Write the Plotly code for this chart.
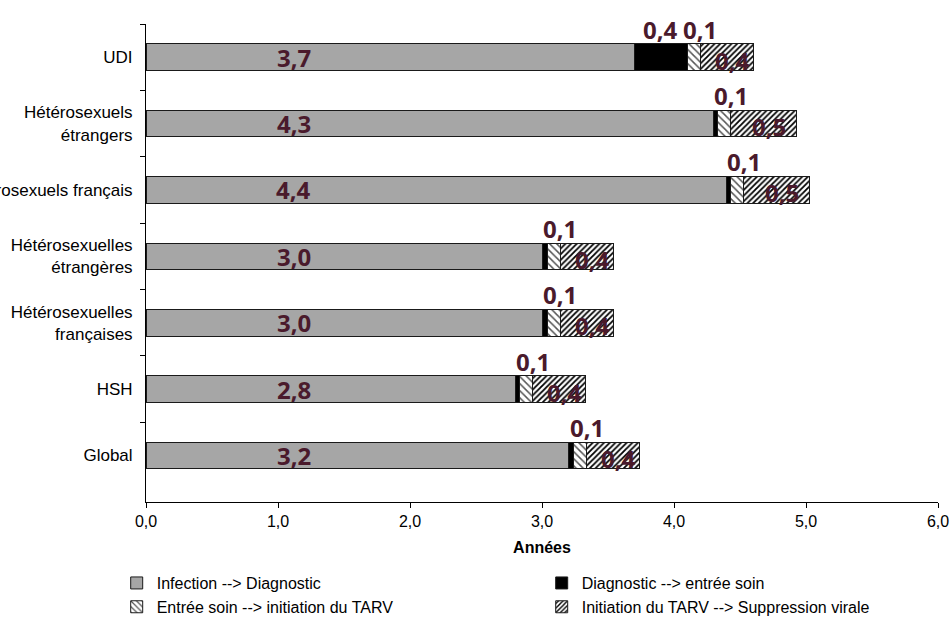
import plotly.graph_objects as go

# Groups, top to bottom
groups = [
    "UDI",
    "Hétérosexuels<br>étrangers",
    "Hétérosexuels français",
    "Hétérosexuelles<br>étrangères",
    "Hétérosexuelles<br>françaises",
    "HSH",
    "Global",
]

# Median durations (years) of each step of the care cascade
infection_diagnostic = [3.7, 4.3, 4.4, 3.0, 3.0, 2.8, 3.2]
diagnostic_soin = [0.4, 0.03, 0.03, 0.04, 0.04, 0.03, 0.04]
soin_tarv = [0.1, 0.1, 0.1, 0.1, 0.1, 0.1, 0.1]
tarv_suppression = [0.4, 0.5, 0.5, 0.4, 0.4, 0.4, 0.4]

step_names = [
    "Infection --> Diagnostic",
    "Diagnostic --> entrée soin",
    "Entrée soin --> initiation du TARV",
    "Initiation du TARV --> Suppression virale",
]

x_ticks = [0, 1, 2, 3, 4, 5, 6]

LABEL_COLOR = "#4a1a2c"
AXIS_FONT = "Liberation Sans, Arial, sans-serif"
LABEL_FONT = "Open Sans, sans-serif"


def fmt(v):
    return f"{v:.1f}".replace(".", ",")


fig = go.Figure()

bar_line = dict(color="#1a1a1a", width=1)

fig.add_trace(go.Bar(
    name=step_names[0], y=groups, x=infection_diagnostic, orientation="h",
    marker=dict(color="#a6a6a6", line=bar_line),
))
fig.add_trace(go.Bar(
    name=step_names[1], y=groups, x=diagnostic_soin, orientation="h",
    marker=dict(color="#000000", line=bar_line),
))
fig.add_trace(go.Bar(
    name=step_names[2], y=groups, x=soin_tarv, orientation="h",
    marker=dict(color="white", line=bar_line,
                pattern=dict(shape="\\", size=5, solidity=0.3,
                             fgcolor="#555555", bgcolor="white")),
))
fig.add_trace(go.Bar(
    name=step_names[3], y=groups, x=tarv_suppression, orientation="h",
    marker=dict(color="white", line=bar_line,
                pattern=dict(shape="/", size=4, solidity=0.45,
                             fgcolor="#000000", bgcolor="white")),
))

annotations = []
label_font = dict(family=LABEL_FONT, size=24, color=LABEL_COLOR)
for i, g in enumerate(groups):
    a = infection_diagnostic[i]
    b = diagnostic_soin[i]
    c = soin_tarv[i]
    d = tarv_suppression[i]
    # first step, written inside the grey bar
    annotations.append(dict(x=1.12, y=g, text=f"<b>{fmt(a)}</b>", showarrow=False,
                            font=label_font, xanchor="center", yanchor="middle"))
    # diagnostic -> care, only when the segment is wide enough
    if b >= 0.1:
        annotations.append(dict(x=a + b / 2, y=g, text=f"<b>{fmt(b)}</b>", showarrow=False,
                                font=label_font, xanchor="center", yanchor="middle",
                                yshift=28))
    # care -> treatment, written above the bar
    annotations.append(dict(x=a + b + c / 2 + 0.05, y=g, text=f"<b>{fmt(c)}</b>",
                            showarrow=False, font=label_font, xanchor="center",
                            yanchor="middle", yshift=28))
    # treatment -> viral suppression, written over the hatched segment
    annotations.append(dict(x=a + b + c + d / 2 + 0.04, y=g, text=f"<b>{fmt(d)}</b>",
                            showarrow=False, font=label_font, xanchor="center",
                            yanchor="middle", yshift=-3))

fig.update_layout(
    width=951, height=627,
    margin=dict(l=146, r=13, t=24, b=125, autoexpand=False),
    template="none",
    barmode="stack",
    bargap=0.6,
    separators=", ",
    plot_bgcolor="white",
    paper_bgcolor="white",
    font=dict(family=AXIS_FONT, size=16, color="#000000"),
    annotations=annotations,
    showlegend=True,
    legend=dict(
        orientation="h", x=-0.037, y=-0.134, xanchor="left", yanchor="top",
        entrywidth=380, entrywidthmode="pixels", itemwidth=30,
        font=dict(family=AXIS_FONT, size=16), traceorder="normal",
        bgcolor="rgba(0,0,0,0)",
    ),
)

fig.update_xaxes(
    range=[0, 6], tickvals=x_ticks, tickformat=".1f",
    showline=True, linecolor="#000000", linewidth=1,
    ticks="outside", ticklen=5, tickcolor="#000000",
    showgrid=False, zeroline=False, automargin=False,
    tickfont=dict(family=AXIS_FONT, size=16),
    title=dict(text="<b>Années</b>", font=dict(family=AXIS_FONT, size=16), standoff=12),
)
fig.update_yaxes(
    categoryorder="array", categoryarray=groups, autorange="reversed",
    tickson="boundaries", ticks="outside", ticklen=5, tickcolor="#000000",
    showline=True, linecolor="#000000", linewidth=1,
    showgrid=False, zeroline=False, automargin=False,
    ticklabelstandoff=9,
    tickfont=dict(family=AXIS_FONT, size=17),
)

fig.write_html("out.html")
